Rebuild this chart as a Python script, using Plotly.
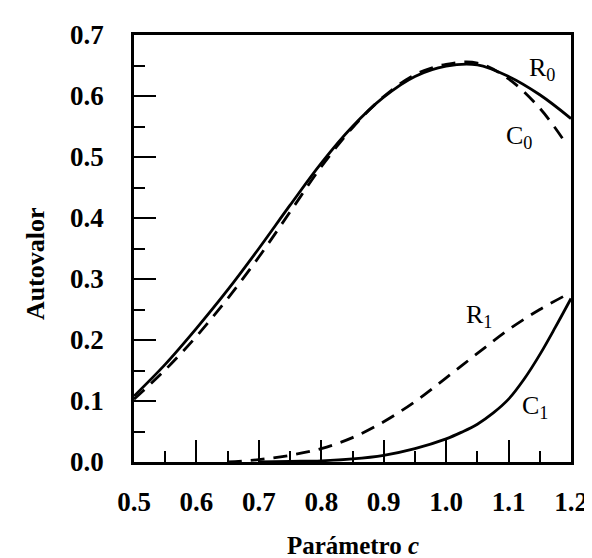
import plotly.graph_objects as go

# Curve data
r0_x = [0.50, 0.55, 0.60, 0.65, 0.70, 0.75, 0.80, 0.85, 0.90, 0.95, 1.00, 1.05, 1.10, 1.15, 1.20]
r0_y = [0.108, 0.160, 0.219, 0.282, 0.350, 0.421, 0.490, 0.550, 0.598, 0.632, 0.649, 0.651, 0.632, 0.602, 0.563]

c0_x = [0.50, 0.55, 0.60, 0.65, 0.70, 0.75, 0.80, 0.85, 0.90, 0.95, 1.00, 1.05, 1.10, 1.15, 1.19]
c0_y = [0.103, 0.151, 0.206, 0.268, 0.336, 0.410, 0.484, 0.548, 0.599, 0.635, 0.652, 0.654, 0.628, 0.580, 0.525]

r1_x = [0.65, 0.70, 0.75, 0.80, 0.85, 0.90, 0.95, 1.00, 1.05, 1.10, 1.15, 1.20]
r1_y = [0.000, 0.004, 0.011, 0.022, 0.040, 0.066, 0.099, 0.138, 0.178, 0.217, 0.250, 0.278]

c1_x = [0.70, 0.75, 0.80, 0.85, 0.90, 0.95, 1.00, 1.025, 1.05, 1.075, 1.10, 1.125, 1.15, 1.175, 1.20]
c1_y = [0.000, 0.001, 0.002, 0.005, 0.011, 0.022, 0.038, 0.049, 0.062, 0.080, 0.103, 0.136, 0.176, 0.221, 0.268]

x_ticks = [0.5, 0.6, 0.7, 0.8, 0.9, 1.0, 1.1, 1.2]
x_tick_labels = ["0.5", "0.6", "0.7", "0.8", "0.9", "1.0", "1.1", "1.2"]
y_ticks = [0.0, 0.1, 0.2, 0.3, 0.4, 0.5, 0.6, 0.7]
y_tick_labels = ["0.0", "0.1", "0.2", "0.3", "0.4", "0.5", "0.6", "0.7"]

curve_labels = ["R<sub>0</sub>", "C<sub>0</sub>", "R<sub>1</sub>", "C<sub>1</sub>"]
label_x = [1.129, 1.093, 1.029, 1.118]
label_y = [0.645, 0.533, 0.240, 0.090]

FONT = "Liberation Serif"
BLACK = "#000000"
LW = 2.8
DASH = "14px,9px"

fig = go.Figure()
fig.add_trace(go.Scatter(x=r0_x, y=r0_y, mode="lines", line=dict(color=BLACK, width=LW, shape="spline"), showlegend=False))
fig.add_trace(go.Scatter(x=c0_x, y=c0_y, mode="lines", line=dict(color=BLACK, width=LW, shape="spline", dash=DASH), showlegend=False))
fig.add_trace(go.Scatter(x=r1_x, y=r1_y, mode="lines", line=dict(color=BLACK, width=LW, shape="spline", dash=DASH), showlegend=False))
fig.add_trace(go.Scatter(x=c1_x, y=c1_y, mode="lines", line=dict(color=BLACK, width=LW, shape="spline"), showlegend=False))

for t, lx, ly in zip(curve_labels, label_x, label_y):
    fig.add_annotation(x=lx, y=ly, xref="x", yref="y", text=t, showarrow=False,
                       xanchor="left", yanchor="middle",
                       font=dict(family=FONT, size=26, color=BLACK))

fig.add_annotation(x=0.5, y=-0.195, xref="paper", yref="paper", text="<b>Parámetro <i>c</i></b>",
                   showarrow=False, font=dict(family=FONT, size=25, color=BLACK),
                   xanchor="center", yanchor="middle")
fig.add_annotation(x=-0.225, y=0.465, xref="paper", yref="paper", text="<b>Autovalor</b>", textangle=-90,
                   showarrow=False, font=dict(family=FONT, size=26, color=BLACK),
                   xanchor="center", yanchor="middle")

axis_common = dict(showgrid=False, zeroline=False, showline=True, linecolor=BLACK, linewidth=2.6,
                   mirror=True, ticks="inside", ticklen=22, tickwidth=2.4, tickcolor=BLACK,
                   tickfont=dict(family=FONT, size=27, color=BLACK, weight="bold"))

fig.update_xaxes(range=[0.5, 1.2], tickvals=x_ticks, ticktext=x_tick_labels,
                 minor=dict(ticks="inside", ticklen=11, tickwidth=2.2, tickcolor=BLACK, dtick=0.05, tick0=0.5),
                 ticklabelstandoff=14, **axis_common)
fig.update_yaxes(range=[0.0, 0.7], tickvals=y_ticks, ticktext=y_tick_labels,
                 minor=dict(ticks="inside", ticklen=11, tickwidth=2.2, tickcolor=BLACK, dtick=0.05, tick0=0.0),
                 ticklabelstandoff=22, **axis_common)

fig.update_layout(width=592, height=558, margin=dict(l=126, r=28, t=18, b=104),
                  plot_bgcolor="white", paper_bgcolor="white",
                  font=dict(family=FONT, color=BLACK))

fig.write_html("out.html")
